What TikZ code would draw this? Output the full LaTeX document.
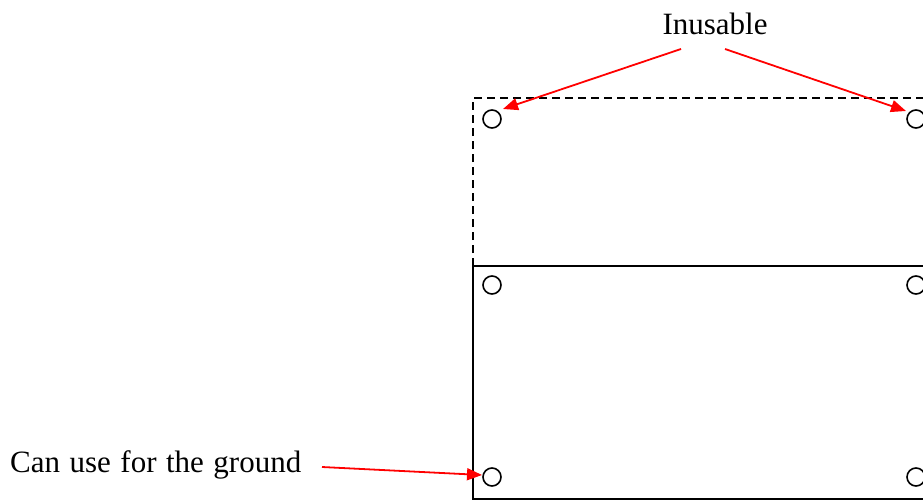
\documentclass[tikz,border=0pt]{standalone}
\usepackage{fontspec}
\setmainfont{Liberation Serif}
\usetikzlibrary{arrows.meta}
\begin{document}
\begin{tikzpicture}[x=1pt,y=-1pt,
  hole/.style={circle,draw=black,line width=1.6pt,minimum size=18pt,inner sep=0pt},
  edge/.style={line width=1.8pt,black},
  dashededge/.style={line width=1.6pt,black,dash pattern=on 8pt off 5pt},
  redarrow/.style={draw=red,line width=1.8pt,-{Triangle[length=15pt,width=12pt]},fill=red},
  lbl/.style={font=\fontsize{31}{36}\selectfont,inner sep=0pt,anchor=base}]
\useasboundingbox (0,0) rectangle (923,500);
\clip (0,0) rectangle (923,500);
% board outline
\draw[dashededge] (473,266) -- (473,98) -- (935,98);
\draw[edge] (935,266) -- (473,266) -- (473,499) -- (935,499);
% holes
\node[hole] (h1) at (492,119) {};
\node[hole] (h2) at (916,119) {};
\node[hole] (h3) at (492,285) {};
\node[hole] (h4) at (916,285) {};
\node[hole] (h5) at (492,477) {};
\node[hole] (h6) at (916,477) {};
% labels
\node[lbl] (inus) at (715,35) {Inusable};
\node[lbl,anchor=base west] (ground) at (10,472) {\spaceskip=9.5pt plus 1pt\relax Can use for the ground};
% arrow anchors
\coordinate (a1s) at (681,49);
\coordinate (a1e) at (503,109);
\coordinate (a2s) at (725,49);
\coordinate (a2e) at (906,111);
\coordinate (a3s) at (322,467);
\coordinate (a3e) at (482,475);
\draw[redarrow] (a1s) -- (a1e);
\draw[redarrow] (a2s) -- (a2e);
\draw[redarrow] (a3s) -- (a3e);
\end{tikzpicture}
\end{document}
